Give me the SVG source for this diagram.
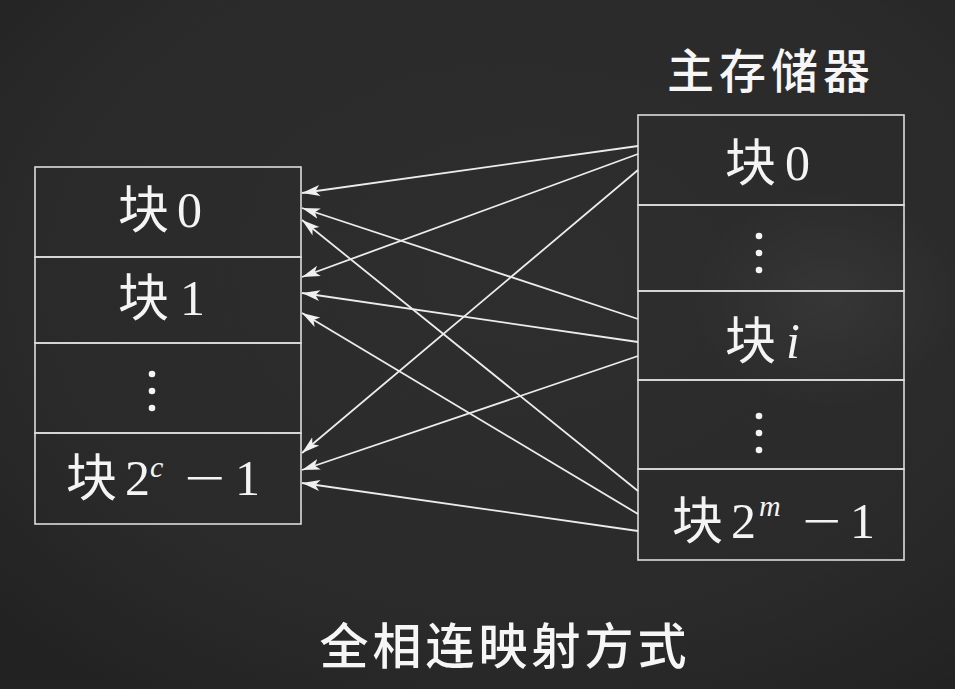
<svg xmlns="http://www.w3.org/2000/svg" width="955" height="689" viewBox="0 0 955 689">
  <defs>
    <radialGradient id="bg" cx="55%" cy="40%" r="75%">
      <stop offset="0" stop-color="#2e2e2e"/>
      <stop offset="0.7" stop-color="#2a2a2a"/>
      <stop offset="1" stop-color="#222222"/>
    </radialGradient>
    <radialGradient id="smudge" cx="50%" cy="50%" r="50%">
      <stop offset="0" stop-color="#ffffff" stop-opacity="0.05"/>
      <stop offset="1" stop-color="#ffffff" stop-opacity="0"/>
    </radialGradient>
    <marker id="arr" markerUnits="userSpaceOnUse" markerWidth="22" markerHeight="14" viewBox="0 -7 22 14" refX="18" refY="0" orient="auto">
      <path d="M0,-5.5 L18,0 L0,5.5 L4.5,0 Z" fill="#f0f0f0"/>
    </marker>
  </defs>
  <style>
    .box { fill: none; stroke: #dcdcdc; stroke-width: 1.6; }
    .cjk { font-family: "Noto Sans CJK SC", "Noto Sans", sans-serif; fill: #f4f4f4; font-size: 51px; }
    .num { font-family: "Liberation Serif", "Times New Roman", serif; fill: #f4f4f4; font-size: 50px; }
    .sup { font-family: "Liberation Serif", "Times New Roman", serif; fill: #f4f4f4; font-size: 30px; font-style: italic; }
    .ital { font-style: italic; }
    .title { font-family: "Noto Sans CJK SC", "Noto Sans", sans-serif; fill: #f6f6f6; font-weight: 500; }
    .dot { fill: #f4f4f4; }
    .conn line { stroke: #ececec; stroke-width: 1.8; marker-end: url(#arr); }
  </style>
  <rect width="955" height="689" fill="url(#bg)"/>
  <ellipse cx="830" cy="300" rx="140" ry="110" fill="url(#smudge)"/>

  <text class="title" x="771" y="88" font-size="47" text-anchor="middle" letter-spacing="5">主存储器</text>

  <!-- Cache (left) -->
  <g id="cache-block-0">
    <rect class="box" x="35" y="167" width="266" height="90"/>
    <text class="cjk" x="118" y="228">块</text>
    <text class="num" x="177" y="227">0</text>
  </g>
  <g id="cache-block-1">
    <rect class="box" x="35" y="257" width="266" height="86"/>
    <text class="cjk" x="118" y="316">块</text>
    <text class="num" x="180" y="315">1</text>
  </g>
  <g id="cache-dots">
    <rect class="box" x="35" y="343" width="266" height="90"/>
    <circle class="dot" cx="152" cy="374" r="3.3"/>
    <circle class="dot" cx="152" cy="391" r="3.3"/>
    <circle class="dot" cx="152" cy="408" r="3.3"/>
  </g>
  <g id="cache-block-last">
    <rect class="box" x="35" y="433" width="266" height="91"/>
    <text class="cjk" x="66" y="496">块</text>
    <text class="num" x="125" y="495">2</text>
    <text class="sup" x="150" y="477">c</text>
    <text class="num" x="184" y="495" textLength="41" lengthAdjust="spacingAndGlyphs">−</text>
    <text class="num" x="235" y="495">1</text>
  </g>

  <!-- Main memory (right) -->
  <g id="mem-block-0">
    <rect class="box" x="638" y="115" width="266" height="90"/>
    <text class="cjk" x="725" y="181">块</text>
    <text class="num" x="785" y="180">0</text>
  </g>
  <g id="mem-dots-1">
    <rect class="box" x="638" y="205" width="266" height="86"/>
    <circle class="dot" cx="759" cy="236" r="3.3"/>
    <circle class="dot" cx="759" cy="253" r="3.3"/>
    <circle class="dot" cx="759" cy="270" r="3.3"/>
  </g>
  <g id="mem-block-i">
    <rect class="box" x="638" y="291" width="266" height="89"/>
    <text class="cjk" x="725" y="359">块</text>
    <text class="num ital" x="786" y="358">i</text>
  </g>
  <g id="mem-dots-2">
    <rect class="box" x="638" y="380" width="266" height="89"/>
    <circle class="dot" cx="759" cy="416" r="3.3"/>
    <circle class="dot" cx="759" cy="433" r="3.3"/>
    <circle class="dot" cx="759" cy="450" r="3.3"/>
  </g>
  <g id="mem-block-last">
    <rect class="box" x="638" y="469" width="266" height="91"/>
    <text class="cjk" x="672" y="539">块</text>
    <text class="num" x="731" y="538">2</text>
    <text class="sup" x="759" y="516">m</text>
    <text class="num" x="802" y="538" textLength="39" lengthAdjust="spacingAndGlyphs">−</text>
    <text class="num" x="850" y="538">1</text>
  </g>

  <!-- Connectors -->
  <g id="connectors" class="conn">
    <line x1="638" y1="146" x2="302" y2="193"/>
    <line x1="638" y1="154" x2="302" y2="277"/>
    <line x1="638" y1="170" x2="302" y2="453"/>
    <line x1="638" y1="319" x2="302" y2="208"/>
    <line x1="638" y1="342" x2="302" y2="293"/>
    <line x1="638" y1="356" x2="302" y2="470"/>
    <line x1="638" y1="491" x2="302" y2="220"/>
    <line x1="638" y1="514" x2="302" y2="313"/>
    <line x1="638" y1="531" x2="302" y2="483"/>
  </g>

  <text class="title" x="505" y="664" font-size="49" text-anchor="middle" letter-spacing="4">全相连映射方式</text>
</svg>
